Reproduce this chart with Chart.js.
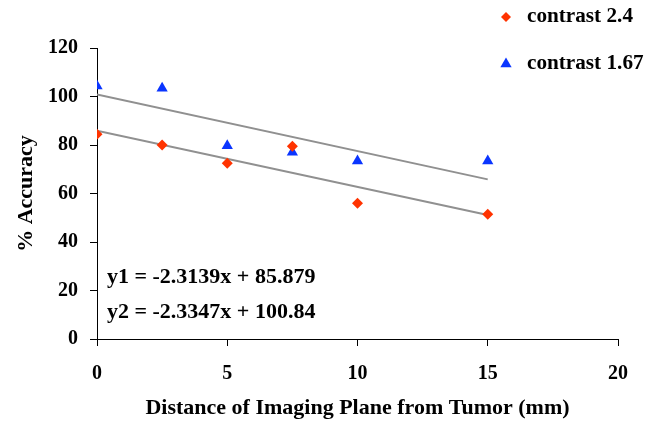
<!DOCTYPE html>
<html>
<head>
<meta charset="utf-8">
<script src="https://cdn.jsdelivr.net/npm/chart.js@4"></script>
<style>
  html, body { margin: 0; padding: 0; background: #fff; }
  #wrap { width: 657px; height: 423px; }
</style>
</head>
<body>
<div id="wrap"><canvas id="chart" width="657" height="423"></canvas></div>
<script>
// distances (mm)
const distances = [0, 2.5, 5, 7.5, 10, 15];
const contrast24 = [84.4, 80, 72.5, 79.5, 56, 51.4];
const contrast167 = [104.3, 103.4, 79.7, 77, 73.4, 73.4];

// fitted trend lines, y = slope * x + intercept
const slopes = [-2.3139, -2.3347];
const intercepts = [85.879, 100.84];
const fitRange = [0, 15];

const seriesNames = ['contrast 2.4', 'contrast 1.67'];
const equations = ['y1 = -2.3139x + 85.879', 'y2 = -2.3347x + 100.84'];

const xTicks = [0, 5, 10, 15, 20];
const yTicks = [0, 20, 40, 60, 80, 100, 120];

const RED = '#ff3300';
const BLUE = '#0a35ff';
const FONT = 'Liberation Serif';

function points(xs, ys) {
  return xs.map((x, i) => ({ x, y: ys[i] }));
}

function fitLine(i) {
  return fitRange.map(x => ({ x, y: slopes[i] * x + intercepts[i] }));
}

// text a little wider than the font, like the source picture
function wideText(ctx, text, x, y, sx) {
  ctx.save();
  ctx.translate(x, y);
  ctx.scale(sx, 1);
  ctx.fillText(text, 0, 0);
  ctx.restore();
}

/* ===== custom legend + equations ===== */

const annotations = {
  id: 'annotations',
  afterDraw(chart) {
    const ctx = chart.ctx;
    ctx.save();
    ctx.font = 'bold 20px "' + FONT + '"';
    ctx.fillStyle = '#000';
    ctx.textBaseline = 'middle';

    // equations
    const left = chart.scales.x.left + 10;
    wideText(ctx, equations[0], left, 278, 1.1);
    wideText(ctx, equations[1], left, 313, 1.1);

    // legend
    const styles = [['rectRot', RED, 5], ['triangle', BLUE, 6.5]];
    const rows = [17, 64];
    styles.forEach((s, i) => {
      ctx.fillStyle = s[1];
      ctx.strokeStyle = s[1];
      Chart.helpers.drawPoint(ctx, { pointStyle: s[0], radius: s[2], borderWidth: 0 }, 506, rows[i]);
      ctx.fillStyle = '#000';
      wideText(ctx, seriesNames[i], 527, rows[i], 1.06);
    });
    ctx.restore();
  }
};

/* ===== chart ===== */

new Chart(document.getElementById('chart'), {
  type: 'scatter',
  data: {
    datasets: [
      {
        label: seriesNames[0],
        data: points(distances, contrast24),
        pointStyle: 'rectRot',
        pointRadius: 5.5,
        backgroundColor: RED,
        borderColor: RED,
        borderWidth: 0,
        order: 1
      },
      {
        label: seriesNames[1],
        data: points(distances, contrast167),
        pointStyle: 'triangle',
        pointRadius: 6.5,
        backgroundColor: BLUE,
        borderColor: BLUE,
        borderWidth: 0,
        order: 1
      },
      {
        label: 'fit 1',
        type: 'line',
        data: fitLine(0),
        borderColor: '#909090',
        borderWidth: 2,
        pointRadius: 0,
        order: 2
      },
      {
        label: 'fit 2',
        type: 'line',
        data: fitLine(1),
        borderColor: '#909090',
        borderWidth: 2,
        pointRadius: 0,
        order: 2
      }
    ]
  },
  options: {
    responsive: false,
    animation: false,
    devicePixelRatio: 1,
    layout: { padding: { left: 13, right: 39, top: 48, bottom: 0 } },
    plugins: {
      legend: { display: false },
      tooltip: { enabled: false }
    },
    scales: {
      x: {
        type: 'linear',
        min: 0,
        max: 20,
        afterBuildTicks: s => { s.ticks = xTicks.map(v => ({ value: v })); },
        afterFit: s => { s.height = 423 - 339; },
        grid: { drawOnChartArea: false, drawTicks: true, tickLength: 7, color: '#000' },
        border: { color: '#000', width: 1 },
        ticks: { color: '#000', padding: 16, font: { family: FONT, size: 20, weight: 'bold' } },
        title: {
          display: true,
          text: 'Distance of Imaging Plane from Tumor (mm)',
          color: '#000',
          padding: { top: 0, bottom: 1 },
          font: { family: FONT, size: 22, weight: 'bold' }
        }
      },
      y: {
        min: 0,
        max: 120,
        afterBuildTicks: s => { s.ticks = yTicks.map(v => ({ value: v })); },
        afterFit: s => { s.width = 97 - 13; },
        grid: { drawOnChartArea: false, drawTicks: true, tickLength: 7, color: '#000' },
        border: { color: '#000', width: 1 },
        ticks: { color: '#000', padding: 12, font: { family: FONT, size: 20, weight: 'bold' } },
        title: {
          display: true,
          text: '% Accuracy',
          color: '#000',
          padding: { top: 0, bottom: 0 },
          font: { family: FONT, size: 22, weight: 'bold' }
        }
      }
    }
  },
  plugins: [annotations]
});
</script>
</body>
</html>
